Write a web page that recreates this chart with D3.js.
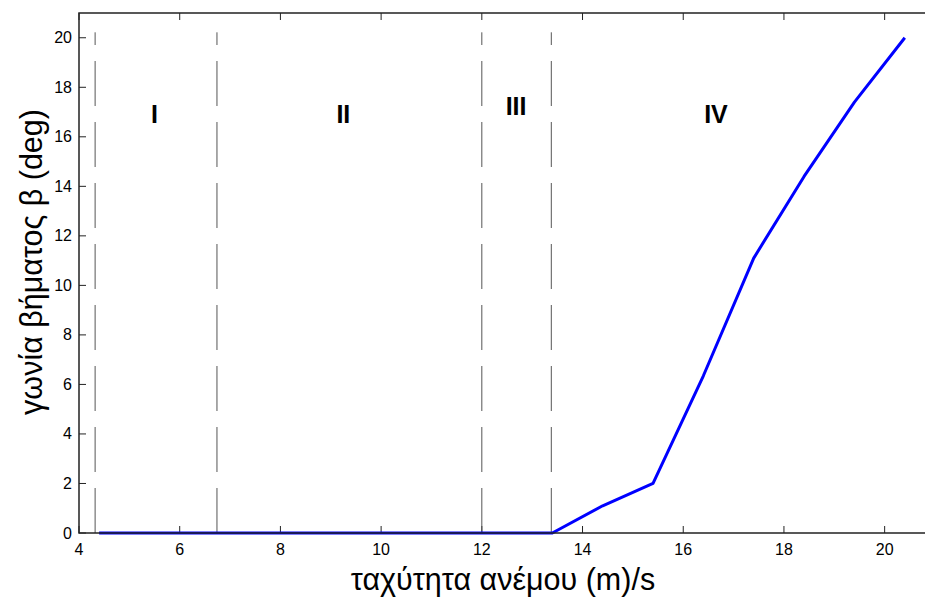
<!DOCTYPE html>
<html>
<head>
<meta charset="utf-8">
<script src="https://cdn.jsdelivr.net/npm/d3@7"></script>
<style>
  body { margin: 0; background: #fff; }
  svg { display: block; font-family: "Liberation Sans", Arial, sans-serif; }
</style>
</head>
<body>
<div id="chart"></div>
<script>
// wind speed (m/s) and pitch angle (deg)
const windSpeed = [4.4, 5.4, 6.4, 7.4, 8.4, 9.4, 10.4, 11.4, 12.4, 13.4, 14.4, 15.4, 16.4, 17.4, 18.4, 19.4, 20.4];
const pitchAngle = [0, 0, 0, 0, 0, 0, 0, 0, 0, 0, 1.1, 2.0, 6.35, 11.1, 14.4, 17.4, 20.0];

// region boundaries and labels
const boundaries = [4.32, 6.74, 12.0, 13.38];
const regionLabels = ["I", "II", "III", "IV"];
const regionLabelX = [5.5, 9.25, 12.68, 16.65];
const regionLabelY = [16.55, 16.55, 16.9, 16.55];

const xTicks = [4, 6, 8, 10, 12, 14, 16, 18, 20];
const yTicks = [0, 2, 4, 6, 8, 10, 12, 14, 16, 18, 20];

const width = 925, height = 601;
const margin = { left: 79, top: 13, right: -10, bottom: 68 };

const svg = d3.select("#chart").append("svg")
  .attr("width", width)
  .attr("height", height);

const x = d3.scaleLinear().domain([4, 21]).range([margin.left, width - margin.right]);
const y = d3.scaleLinear().domain([0, 21]).range([height - margin.bottom, margin.top]);

const x0 = x.range()[0], x1 = x.range()[1];
const y0 = y.range()[0], y1 = y.range()[1];

// ticks (inward, mirrored top)
const tickLen = 7;
const g = svg.append("g");

xTicks.forEach(t => {
  g.append("line").attr("x1", x(t)).attr("x2", x(t)).attr("y1", y0).attr("y2", y0 - tickLen)
    .attr("stroke", "#222").attr("stroke-width", 1);
  g.append("line").attr("x1", x(t)).attr("x2", x(t)).attr("y1", y1).attr("y2", y1 + tickLen)
    .attr("stroke", "#222").attr("stroke-width", 1);
  g.append("text").attr("x", x(t)).attr("y", y0 + 22)
    .attr("text-anchor", "middle").attr("font-size", 16).attr("fill", "#000")
    .text(t);
});

yTicks.forEach(t => {
  g.append("line").attr("x1", x0).attr("x2", x0 + tickLen).attr("y1", y(t)).attr("y2", y(t))
    .attr("stroke", "#222").attr("stroke-width", 1);
  g.append("text").attr("x", x0 - 7).attr("y", y(t) + 5.5)
    .attr("text-anchor", "end").attr("font-size", 16).attr("fill", "#000")
    .text(t);
});

// dashed region boundaries
svg.append("g").selectAll("line")
  .data(boundaries)
  .join("line")
  .attr("x1", d => x(d)).attr("x2", d => x(d))
  .attr("y1", y(0)).attr("y2", y(20.22))
  .attr("stroke", "#555")
  .attr("stroke-width", 1)
  .attr("stroke-dasharray", "45,16");

// pitch curve
const line = d3.line()
  .x((d, i) => x(windSpeed[i]))
  .y(d => y(d));

svg.append("path")
  .datum(pitchAngle)
  .attr("d", line)
  .attr("fill", "none")
  .attr("stroke", "#0000ff")
  .attr("stroke-width", 3)
  .attr("stroke-linejoin", "round");

// axes box (left, bottom, top)
svg.append("path")
  .attr("d", `M${x1},${y1}H${x0}V${y0}H${x1}`)
  .attr("fill", "none")
  .attr("stroke", "#222")
  .attr("stroke-width", 1.5);

// region labels
svg.append("g").selectAll("text")
  .data(regionLabels)
  .join("text")
  .attr("x", (d, i) => x(regionLabelX[i]))
  .attr("y", (d, i) => y(regionLabelY[i]))
  .attr("text-anchor", "middle")
  .attr("font-size", 25)
  .attr("font-weight", "bold")
  .text(d => d);

// axis titles
svg.append("text")
  .attr("x", 503).attr("y", 590)
  .attr("text-anchor", "middle")
  .attr("font-size", 30.5)
  .text("ταχύτητα ανέμου (m)/s");

svg.append("text")
  .attr("transform", "translate(42,262) rotate(-90)")
  .attr("text-anchor", "middle")
  .attr("font-size", 30.5)
  .text("γωνία βήματος β (deg)");
</script>
</body>
</html>
